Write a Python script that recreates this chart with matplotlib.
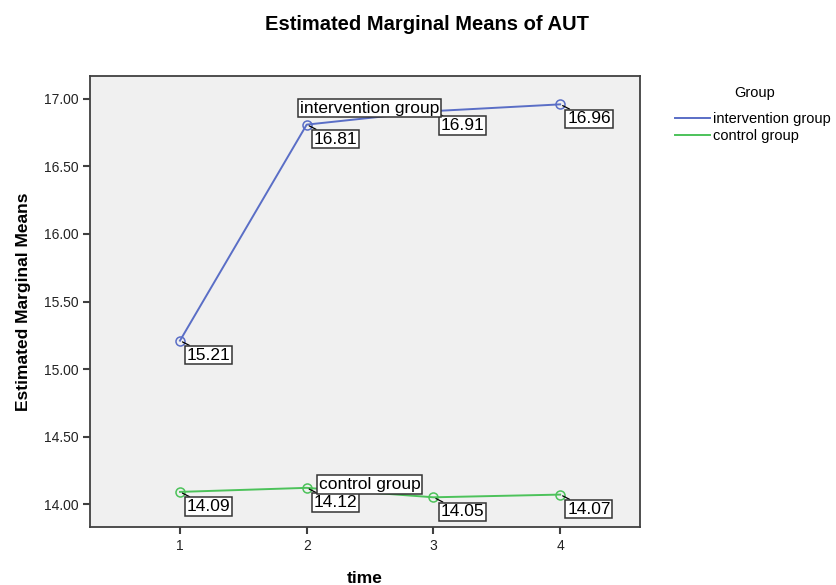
import matplotlib
matplotlib.use('Agg')
import matplotlib.pyplot as plt
from matplotlib.lines import Line2D

plt.rcParams['font.family'] = ['Liberation Sans', 'DejaVu Sans']

times = [1, 2, 3, 4]
groups = ['intervention group', 'control group']
intervention = [15.21, 16.81, 16.91, 16.96]
control = [14.09, 14.12, 14.05, 14.07]
yticks = [14.0, 14.5, 15.0, 15.5, 16.0, 16.5, 17.0]

blue = '#5a6ec6'
green = '#4cc25a'
edge = '#404040'

fig = plt.figure(figsize=(8.36, 5.85), dpi=100)
ax = fig.add_axes([90 / 836, 58 / 585, 550 / 836, 451 / 585])
ax.set_facecolor('#f0f0f0')

for vals, col in [(intervention, blue), (control, green)]:
    ax.plot(times, vals, color=col, lw=1.4, marker='o', ms=6.5,
            mfc='none', mec=col, mew=1.1, zorder=3)

box = dict(boxstyle='square,pad=0.1', fc='white', ec='#333333', lw=1.1)

def value_label(x, y):
    ax.annotate('%.2f' % y, xy=(x, y), xytext=(7, -7),
                textcoords='offset pixels', ha='left', va='top',
                fontsize=12.5, bbox=box, zorder=5,
                arrowprops=dict(arrowstyle='-', color='black', lw=0.9,
                                shrinkA=0, shrinkB=2))

for t, v in zip(times, intervention):
    value_label(t, v)
for t, v in zip(times, control):
    value_label(t, v)

# series labels placed at time 2
ax.annotate(groups[0], xy=(times[1], intervention[1]), xytext=(-7, 9),
            textcoords='offset pixels', ha='left', va='bottom',
            fontsize=12.5, bbox=box, zorder=6)
ax.annotate(groups[1], xy=(times[1], control[1]), xytext=(12, -4),
            textcoords='offset pixels', ha='left', va='bottom',
            fontsize=12.5, bbox=box, zorder=6)

ax.set_xlim(0.29, 4.63)
ax.set_ylim(13.83, 17.17)
ax.set_xticks(times)
ax.set_yticks(yticks)
ax.set_yticklabels(['%.2f' % v for v in yticks])
ax.tick_params(direction='out', length=5, width=1.5, color=edge,
               labelsize=10, labelcolor='#222222')
for s in ax.spines.values():
    s.set_color(edge)
    s.set_linewidth(1.3)

ax.set_xlabel('time', fontsize=12.5, fontweight='bold', labelpad=13)
ax.set_ylabel('Estimated Marginal Means', fontsize=12.5, fontweight='bold',
              labelpad=9)
fig.text(427 / 836, 1 - 25 / 585, 'Estimated Marginal Means of AUT',
         ha='center', va='center', fontsize=14.5, fontweight='bold')

fig.text(755 / 836, 1 - 93 / 585, 'Group', ha='center', va='center',
         fontsize=10.5)
handles = [Line2D([0], [0], color=blue, lw=1.4),
           Line2D([0], [0], color=green, lw=1.4)]
leg = fig.legend(handles, groups, loc='upper left',
                 bbox_to_anchor=(662 / 836, 1 - 99 / 585), frameon=False,
                 fontsize=10.5, handlelength=2.4, handletextpad=0.2,
                 labelspacing=0.2)

fig.savefig('out.png', dpi=100)
